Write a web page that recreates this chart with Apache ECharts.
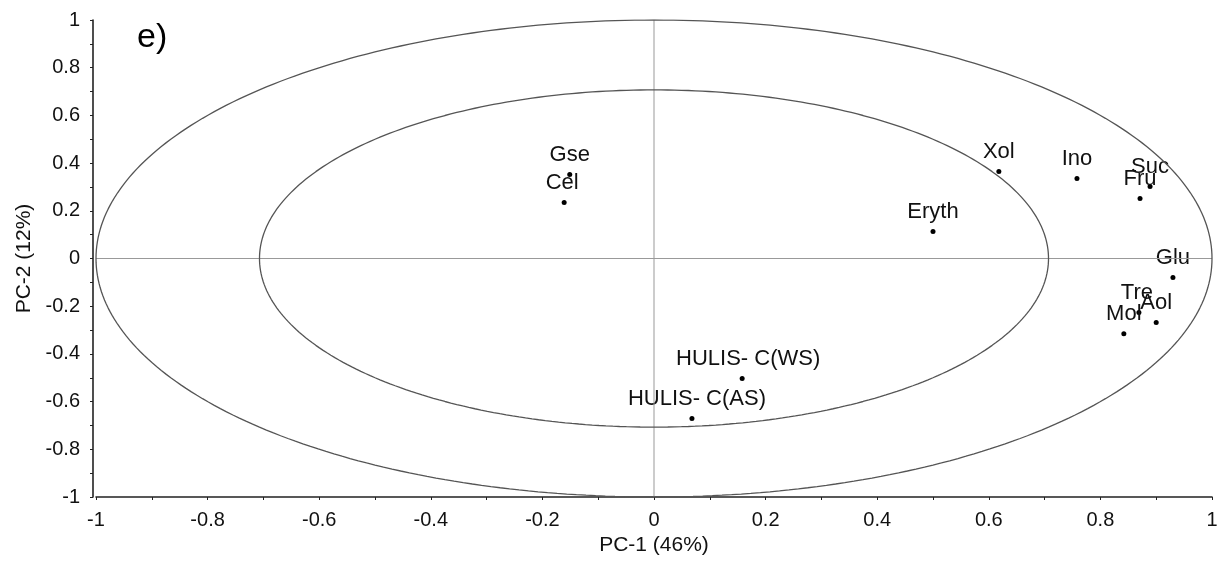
<!DOCTYPE html>
<html>
<head>
<meta charset="utf-8">
<script src="https://cdn.jsdelivr.net/npm/echarts@6/dist/echarts.min.js"></script>
<style>html,body{margin:0;padding:0;background:#fff}#c{width:1224px;height:561px}</style>
</head>
<body>
<div id="c"></div>
<script>
// Loadings data (PC-1, PC-2)
const names = ['Gse','Cel','Xol','Ino','Eryth','Suc','Fru','Glu','Tre','Aol','Mol','HULIS- C(WS)','HULIS- C(AS)'];
const pc1   = [-0.151,-0.161,0.618,0.758,0.500,0.889,0.871,0.930,0.869,0.900,0.842,0.158,0.068];
const pc2   = [0.352,0.235,0.365,0.335,0.113,0.302,0.252,-0.080,-0.226,-0.268,-0.315,-0.503,-0.671];
const labelDx = [0,-2,0,0,0,0,0,0,-2,0,0,6,5];
const xTicks = [-1,-0.8,-0.6,-0.4,-0.2,0,0.2,0.4,0.6,0.8,1];
const yTicks = [-1,-0.8,-0.6,-0.4,-0.2,0,0.2,0.4,0.6,0.8,1];
const outerR = 1.0;
const innerR = 0.707;

function ellipse(r){
  const pts=[];
  for(let i=0;i<=360;i++){const a=i*Math.PI/180;pts.push([r*Math.cos(a),r*Math.sin(a)]);}
  return pts;
}
const chart = echarts.init(document.getElementById('c'));
const font = 'Liberation Sans, Arial, sans-serif';
chart.setOption({
  animation:false,
  backgroundColor:'#fff',
  grid:{left:96,right:12,top:20,bottom:64},
  graphic:[{type:'text',left:137,top:21,style:{text:'e)',font:'34px '+font,fill:'#000'}}],
  xAxis:{type:'value',min:xTicks[0],max:xTicks[xTicks.length-1],interval:0.2,
    name:'PC-1 (46%)',nameLocation:'middle',nameGap:37,
    nameTextStyle:{fontFamily:font,fontSize:21,color:'#111'},
    axisLine:{onZero:false,lineStyle:{color:'#222',width:1.6}},
    axisTick:{show:true,length:3,lineStyle:{color:'#222'}},
    minorTick:{show:true,splitNumber:2,length:3,lineStyle:{color:'#222'}},
    splitLine:{show:false},
    axisLabel:{fontFamily:font,fontSize:20,color:'#111',margin:13}},
  yAxis:{type:'value',min:yTicks[0],max:yTicks[yTicks.length-1],interval:0.2,offset:3,
    name:'PC-2 (12%)',nameLocation:'middle',nameGap:58,nameRotate:90,
    nameTextStyle:{fontFamily:font,fontSize:21,color:'#111'},
    axisLine:{onZero:false,lineStyle:{color:'#222',width:1.6}},
    axisTick:{show:true,length:3,lineStyle:{color:'#222'}},
    minorTick:{show:true,splitNumber:2,length:3,lineStyle:{color:'#222'}},
    splitLine:{show:false},
    axisLabel:{fontFamily:font,fontSize:20,color:'#111',margin:13}},
  series:[
    {type:'line',data:[[0,-1],[0,1]],symbol:'none',lineStyle:{color:'#999',width:1},silent:true},
    {type:'line',data:[[-1,0],[1,0]],symbol:'none',lineStyle:{color:'#999',width:1},silent:true},
    {type:'line',data:ellipse(outerR),symbol:'none',lineStyle:{color:'#555',width:1.3},silent:true},
    {type:'line',data:ellipse(innerR),symbol:'none',lineStyle:{color:'#555',width:1.3},silent:true},
    {type:'scatter',symbolSize:5,itemStyle:{color:'#000',opacity:1},
      data:names.map((n,i)=>({name:n,value:[pc1[i],pc2[i]],
        label:{show:true,position:'top',distance:6,offset:[labelDx[i],0],formatter:n,
          fontFamily:font,fontSize:22,color:'#111',opacity:1}}))}
  ]
});
</script>
</body>
</html>
